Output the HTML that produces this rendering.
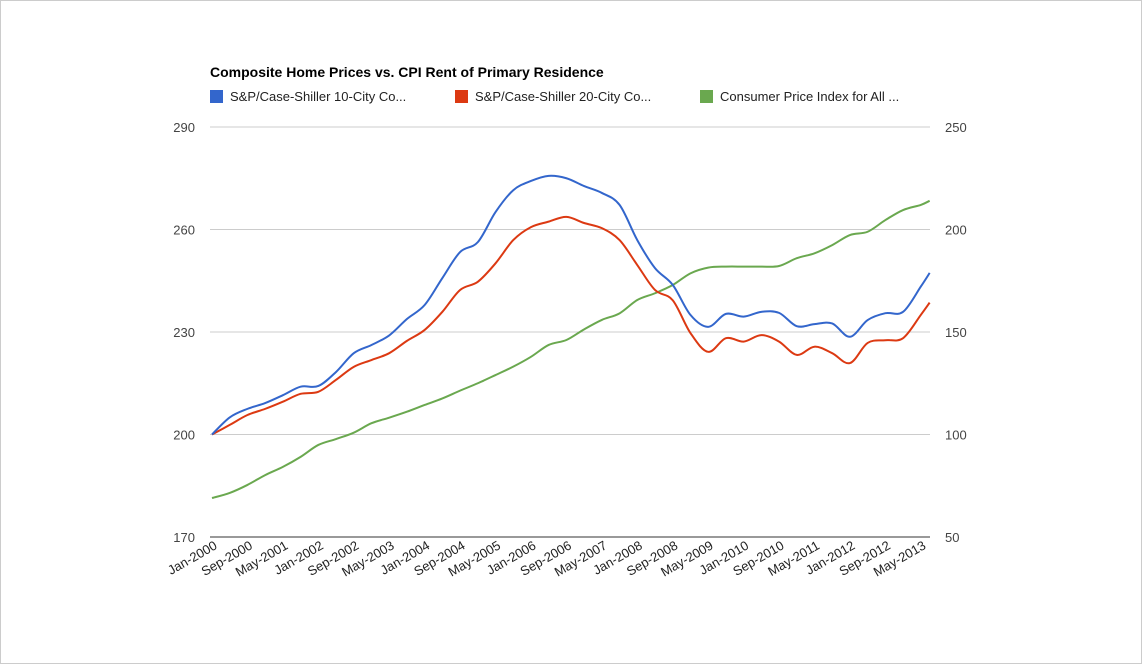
<!DOCTYPE html>
<html><head><meta charset="utf-8"><style>
body{margin:0;background:#fff;}
svg{display:block;font-family:"Liberation Sans",Arial,sans-serif;}
</style></head><body>
<svg id="chart" width="1142" height="664">
<rect x="0.5" y="0.5" width="1141" height="663" fill="#fff" stroke="#ccc"/>
<text x="210" y="77" font-size="14" font-weight="bold" fill="#000">Composite Home Prices vs. CPI Rent of Primary Residence</text>
<g>
<g><rect x="210" y="90" width="13" height="13" fill="#3366cc"/><text x="230" y="101" font-size="13" fill="#222">S&amp;P/Case-Shiller 10-City Co...</text></g>
<g><rect x="455" y="90" width="13" height="13" fill="#dc3912"/><text x="475" y="101" font-size="13" fill="#222">S&amp;P/Case-Shiller 20-City Co...</text></g>
<g><rect x="700" y="90" width="13" height="13" fill="#6aa84f"/><text x="720" y="101" font-size="13" fill="#222">Consumer Price Index for All ...</text></g>
</g>
<g id="grid"></g><g id="lines"></g><g id="axes"></g>
</svg>
<script>
const months=[0,4,8,12,16,20,24,28,32,36,40,44,48,52,56,60,64,68,72,76,80,84,88,92,96,100,104,108,112,116,120,124,128,132,136,140,144,148,152,156,160,162];
const city10=[200,205,207.5,209.2,211.5,214,214.2,218.3,223.8,226.2,229,233.8,237.9,245.8,253.4,256.3,265.1,271.5,274.2,275.7,275,272.7,270.7,267.2,256.9,248.7,243.8,235,231.5,235.3,234.5,235.9,235.6,231.7,232.3,232.5,228.6,233.5,235.5,235.9,243.3,247.3];
const city20=[200,202.8,205.7,207.5,209.6,211.9,212.5,216,219.8,221.8,223.8,227.4,230.6,235.9,242.3,244.7,250.1,256.9,260.7,262.3,263.7,261.9,260.4,256.9,249.6,242.3,239.3,229.7,224.2,228.2,227.2,229.1,227.2,223.3,225.7,223.8,220.9,226.8,227.6,228.2,235,238.6];
const cpi=[69,71.5,75.4,80.2,84.2,89.1,94.9,97.8,100.9,105.5,108.2,111.1,114.4,117.6,121.4,125,129,133.1,137.9,143.7,146.1,151.3,155.9,159.1,165.6,168.9,172.9,178.6,181.4,181.9,181.9,181.9,182.2,186,188.4,192.4,197.3,198.9,204.6,209.5,212,214];
const leftTicks=[170,200,230,260,290];
const rightTicks=[50,100,150,200,250];
const xLabels=["Jan-2000","Sep-2000","May-2001","Jan-2002","Sep-2002","May-2003","Jan-2004","Sep-2004","May-2005","Jan-2006","Sep-2006","May-2007","Jan-2008","Sep-2008","May-2009","Jan-2010","Sep-2010","May-2011","Jan-2012","Sep-2012","May-2013"];
const X0=212,PX=4.43,TOP=127,BOT=537;
const xs=m=>X0+m*PX;
const yl=v=>BOT-(v-170)/120*(BOT-TOP);
const yr=v=>BOT-(v-50)/200*(BOT-TOP);
const NS="http://www.w3.org/2000/svg";
const grid=document.getElementById('grid'),axes=document.getElementById('axes'),lines=document.getElementById('lines');
function mk(t,a,p){const e=document.createElementNS(NS,t);for(const k in a)e.setAttribute(k,a[k]);p.appendChild(e);return e;}
leftTicks.forEach((v,i)=>{
 const y=yl(v);
 const g=mk('line',{x1:210,x2:930,y1:y,y2:y,stroke:i==0?'#333':'#ccc','stroke-width':1},grid);
 
 
 const t=mk('text',{x:195,y:y+5,'text-anchor':'end','font-size':13,fill:'#444'},axes);t.textContent=v;
 
 
});
rightTicks.forEach(v=>{
 const t=mk('text',{x:945,y:yr(v)+5,'font-size':13,fill:'#444'},axes);t.textContent=v;
 
 
});
xLabels.forEach((l,i)=>{
 const x=xs(i*8)+6,y=548;
 const t=mk('text',{x:x,y:y,'text-anchor':'end','font-size':13,fill:'#222',transform:`rotate(-30 ${x} ${y})`},axes);t.textContent=l;
 
 
});
function path(vals,yf){
 const p=months.map((m,i)=>[xs(m),yf(vals[i])]);
 let d=`M${p[0][0]},${p[0][1]}`;
 for(let i=0;i<p.length-1;i++){
  const p0=p[Math.max(0,i-1)],p1=p[i],p2=p[i+1],p3=p[Math.min(p.length-1,i+2)];
  const c1=[p1[0]+(p2[0]-p0[0])/6,p1[1]+(p2[1]-p0[1])/6],c2=[p2[0]-(p3[0]-p1[0])/6,p2[1]-(p3[1]-p1[1])/6];
  d+=` C${c1[0]},${c1[1]} ${c2[0]},${c2[1]} ${p2[0]},${p2[1]}`;
 }
 return d;
}
const s1=mk('path',{d:path(cpi,yr),fill:'none',stroke:'#6aa84f','stroke-width':2},lines);


const s2=mk('path',{d:path(city20,yl),fill:'none',stroke:'#dc3912','stroke-width':2},lines);


const s3=mk('path',{d:path(city10,yl),fill:'none',stroke:'#3366cc','stroke-width':2},lines);


</script>
</body></html>
